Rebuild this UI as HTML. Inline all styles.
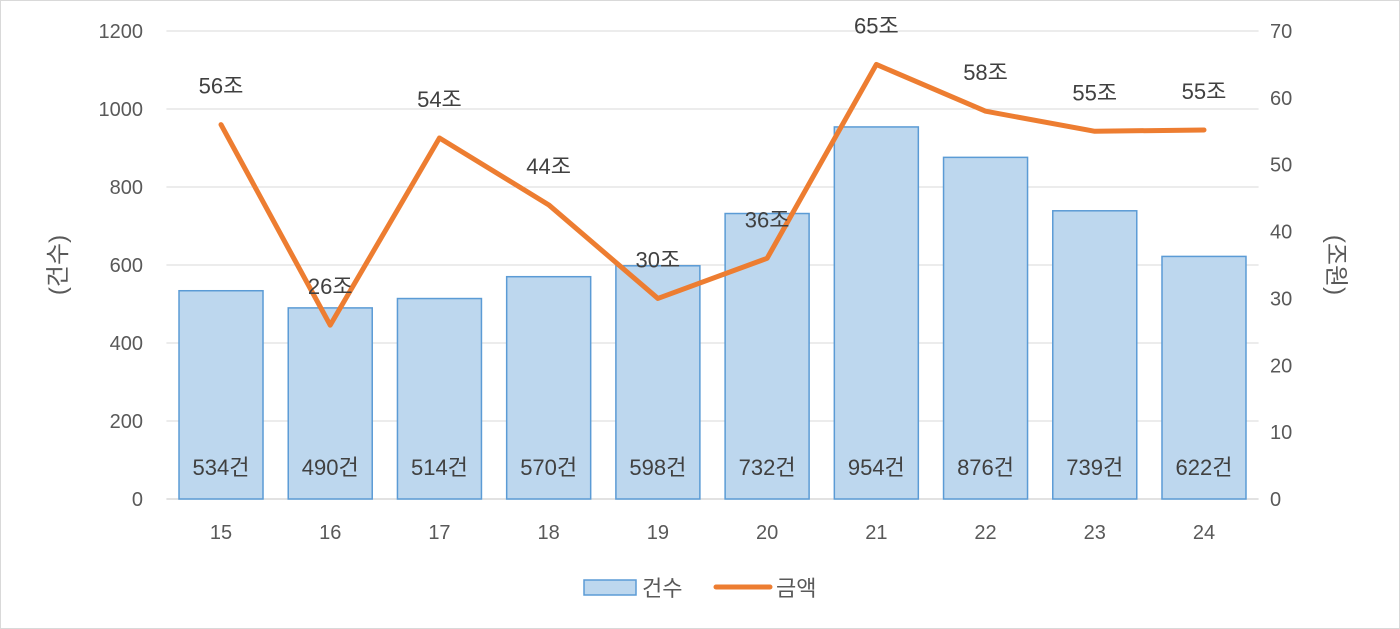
<!DOCTYPE html>
<html><head><meta charset="utf-8"><style>
html,body{margin:0;padding:0;background:#fff}
svg{display:block}
text{font-family:"Liberation Sans","Noto Sans CJK KR",sans-serif}
</style></head><body>
<svg id="chart" width="1400" height="629" xmlns="http://www.w3.org/2000/svg">
<rect x="0.5" y="0.5" width="1399" height="628" fill="#fff" stroke="#d9d9d9"/>
<g id="grid"></g>
<g id="bars"></g>
<g id="line"></g>
<g id="labels"></g>
<g id="axes"></g>
<text transform="translate(66,265) rotate(-90)" text-anchor="middle" font-size="24" fill="#595959">(건수)</text>
<text transform="translate(1328,265) rotate(90)" text-anchor="middle" font-size="24" fill="#595959">(조원)</text>
<g>
<rect x="584" y="580" width="52" height="15" fill="#bdd7ee" stroke="#5b9bd5" stroke-width="1.5"/>
<text x="642" y="596" font-size="22" fill="#595959">건수</text>
<line x1="716" y1="587" x2="770" y2="587" stroke="#ed7d31" stroke-width="5" stroke-linecap="round"/>
<text x="776" y="596" font-size="22" fill="#595959">금액</text>
</g>
</svg>
<script>
const categories = ["15","16","17","18","19","20","21","22","23","24"];
const counts = [534,490,514,570,598,732,954,876,739,622];
const amounts = [56,26,54,44,30,36,65,58,55,55.2];
const amountLabels = ["56조","26조","54조","44조","30조","36조","65조","58조","55조","55조"];
const leftTicks = [0,200,400,600,800,1000,1200];
const rightTicks = [0,10,20,30,40,50,60,70];

const NS="http://www.w3.org/2000/svg";
const X0=166.4, X1=1258.6, Y0=499, Y1=31;
const step=(X1-X0)/categories.length;
const xc=i=>X0+step*(i+0.5);
const yL=v=>Y0-(v/1200)*(Y0-Y1);
const yR=v=>Y0-(v/70)*(Y0-Y1);
function mk(tag,attrs,parent,txt){const e=document.createElementNS(NS,tag);for(const k in attrs)e.setAttribute(k,attrs[k]);if(txt!==undefined)e.textContent=txt;parent.appendChild(e);return e;}
const grid=document.getElementById('grid'),bars=document.getElementById('bars'),line=document.getElementById('line'),labels=document.getElementById('labels'),axes=document.getElementById('axes');
leftTicks.forEach(t=>{
  const g=mk('line',{x1:X0,x2:X1,y1:yL(t),y2:yL(t),stroke:t===0?'#d9d9d9':'#d9d9d9','stroke-width':t===0?1.5:1},grid);
  
  
  const tx=mk('text',{x:143,y:yL(t)+7,'text-anchor':'end','font-size':20,fill:'#595959'},axes,String(t));
  
  
});
rightTicks.forEach(t=>{
  const tx=mk('text',{x:1270,y:yR(t)+7,'font-size':20,fill:'#595959'},axes,String(t));
  
  
});
categories.forEach((c,i)=>{
  const tx=mk('text',{x:xc(i),y:539,'text-anchor':'middle','font-size':20,fill:'#595959'},axes,c);
  
  
  const bw=84;
  const b=mk('rect',{x:xc(i)-bw/2,y:yL(counts[i]),width:bw,height:Y0-yL(counts[i]),fill:'#bdd7ee',stroke:'#5b9bd5','stroke-width':1.5},bars);
  
  
  const bl=mk('text',{x:xc(i),y:475,'text-anchor':'middle','font-size':22,fill:'#404040'},labels,counts[i]+'건');
  
  
  const al=mk('text',{x:xc(i),y:yR(amounts[i])-31,'text-anchor':'middle','font-size':22,fill:'#404040'},labels,amountLabels[i]);
  
  
});
const pts=amounts.map((v,i)=>xc(i)+','+yR(v)).join(' ');
const pl=mk('polyline',{points:pts,fill:'none',stroke:'#ed7d31','stroke-width':5,'stroke-linecap':'round','stroke-linejoin':'round'},line);


</script>
</body></html>
